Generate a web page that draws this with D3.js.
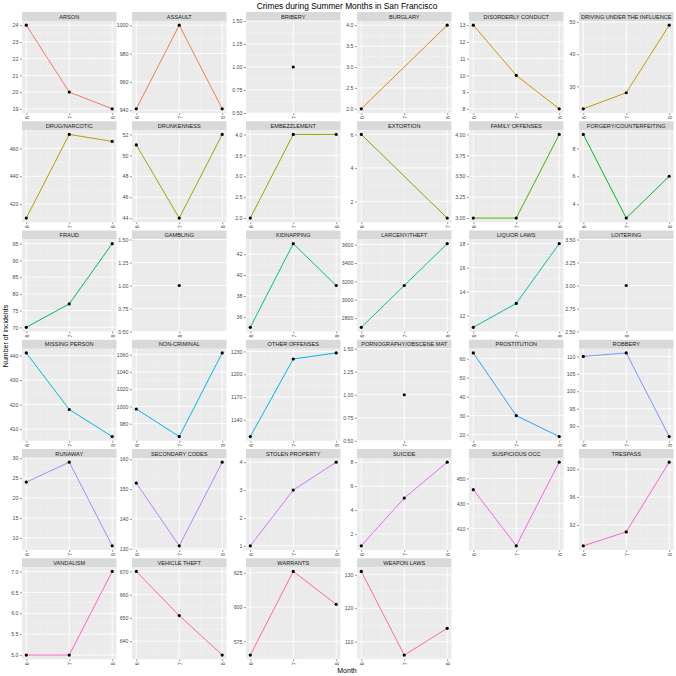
<!DOCTYPE html>
<html><head><meta charset="utf-8">
<script src="https://cdn.jsdelivr.net/npm/d3@7"></script>
<style>body{margin:0;background:#fff} text{font-family:"Liberation Sans",Arial,sans-serif}</style>
</head><body><svg id="c" width="676" height="676"></svg>
<script>
const categories = ["ARSON","ASSAULT","BRIBERY","BURGLARY","DISORDERLY CONDUCT","DRIVING UNDER THE INFLUENCE",
 "DRUG/NARCOTIC","DRUNKENNESS","EMBEZZLEMENT","EXTORTION","FAMILY OFFENSES","FORGERY/COUNTERFEITING",
 "FRAUD","GAMBLING","KIDNAPPING","LARCENY/THEFT","LIQUOR LAWS","LOITERING",
 "MISSING PERSON","NON-CRIMINAL","OTHER OFFENSES","PORNOGRAPHY/OBSCENE MAT","PROSTITUTION","ROBBERY",
 "RUNAWAY","SECONDARY CODES","STOLEN PROPERTY","SUICIDE","SUSPICIOUS OCC","TRESPASS",
 "VANDALISM","VEHICLE THEFT","WARRANTS","WEAPON LAWS"];
const months = [[6,7,8],[6,7,8],[7],[6,8],[6,7,8],[6,7,8],
 [6,7,8],[6,7,8],[6,7,8],[6,7],[6,7,8],[6,7,8],
 [6,7,8],[8],[6,7,8],[6,7,8],[6,7,8],[8],
 [6,7,8],[6,7,8],[6,7,8],[7],[6,7,8],[6,7,8],
 [6,7,8],[6,7,8],[6,7,8],[6,7,8],[6,7,8],[6,7,8],
 [6,7,8],[6,7,8],[6,7,8],[6,7,8]];
const counts = [[24,20,19],[941,1000,941],[1],[2,4],[13,10,8],[23,28,49],
 [410,470,465],[51,44,52],[2,4,4],[6,1],[3,3,4],[9,3,6],
 [70,77,95],[1],[35,43,39],[2700,3155,3610],[11,13,18],[3],
 [441,418,407],[997,965,1062],[1118,1220,1228],[1],[63,30,19],[110,111,87],
 [24,29,8],[152,131,159],[1,3,4],[1,5,8],[441,396,463],[89,91,101],
 [5,5,7],[670,651,634],[565,626,602],[131,106,114]];
const yTickLabels = [
 ["19","20","21","22","23","24"],["940","960","980","1000"],["0.50","0.75","1.00","1.25","1.50"],["2.0","2.5","3.0","3.5","4.0"],["8","9","10","11","12","13"],["30","40","50"],
 ["420","440","460"],["44","46","48","50","52"],["2.0","2.5","3.0","3.5","4.0"],["2","4","6"],["3.00","3.25","3.50","3.75","4.00"],["4","6","8"],
 ["70","75","80","85","90","95"],["0.50","0.75","1.00","1.25","1.50"],["36","38","40","42"],["2800","3000","3200","3400","3600"],["12","14","16","18"],["2.50","2.75","3.00","3.25","3.50"],
 ["410","420","430","440"],["980","1000","1020","1040","1060"],["1140","1170","1200","1230"],["0.50","0.75","1.00","1.25","1.50"],["20","30","40","50","60"],["90","95","100","105","110"],
 ["10","15","20","25","30"],["130","140","150","160"],["1","2","3","4"],["2","4","6","8"],["410","430","450"],["92","96","100"],
 ["5.0","5.5","6.0","6.5","7.0"],["640","650","660","670"],["575","600","625"],["110","120","130"]];
const xTickLabels = ["6","7","8"];
const title = "Crimes during Summer Months in San Francisco";
const xTitle = "Month", yTitle = "Number of incidents";

// ggplot2 hue palette (polar LUV)
function hclLuv(h, c, l){
  const un=0.1978398, vn=0.4683363;
  const Y = l>8 ? Math.pow((l+16)/116,3) : l/903.3;
  const hr = h*Math.PI/180, u=c*Math.cos(hr), v=c*Math.sin(hr);
  const up=u/(13*l)+un, vp=v/(13*l)+vn;
  const X = 9*Y*up/(4*vp), Z = -X/3 - 5*Y + 3*Y/vp;
  const lin=[3.240479*X-1.537150*Y-0.498535*Z, -0.969256*X+1.875992*Y+0.041556*Z, 0.055648*X-0.204043*Y+1.057311*Z];
  const g=lin.map(t=>{t=t>0.00304?1.055*Math.pow(t,1/2.4)-0.055:12.92*t; return Math.round(255*Math.max(0,Math.min(1,t)));});
  return d3.rgb(g[0],g[1],g[2]).formatHex();
}
const n=categories.length;
const colors=d3.range(n).map(i=>hclLuv(15+360*i/n,100,65));
const color=d3.scaleOrdinal(categories,colors);

const svg=d3.select("#c");
svg.append("rect").attr("width",676).attr("height",676).attr("fill","#fff");
const colLeft=[22,132,246,357,469,579], panelW=94.5, stripH=9, panelH=92;
const rowTop=r=>12+r*109.25;
const txtCol="#4D4D4D";

function expandDom(vals){
  const e=d3.extent(vals);
  if(e[0]===e[1]) return [e[0]-0.5,e[1]+0.5];
  const p=(e[1]-e[0])*0.05; return [e[0]-p,e[1]+p];
}
function minorOf(maj,dom){
  const out=[]; if(maj.length<2) return out;
  const st=maj[1]-maj[0];
  const ext=[maj[0]-st].concat(maj);
  ext.forEach(m=>{const v=m+st/2; if(v>dom[0]&&v<dom[1]) out.push(v);});
  return out;
}

categories.forEach((cat,i)=>{
  const r=Math.floor(i/6), c=i%6;
  const x0=colLeft[c], y0=rowTop(r)+stripH;
  const g=svg.append("g");
  const xs=d3.scaleLinear().domain(expandDom(months[i])).range([x0,x0+panelW]);
  const ys=d3.scaleLinear().domain(expandDom(counts[i])).range([y0+panelH,y0]);
  g.append("rect").attr("x",x0).attr("y",rowTop(r)).attr("width",panelW).attr("height",stripH).attr("fill","#D9D9D9");
  g.append("text").attr("x",x0+panelW/2).attr("y",rowTop(r)+stripH/2).attr("dy","0.36em").attr("text-anchor","middle")
    .attr("font-size",5.6).attr("fill","#1A1A1A").text(cat);
  g.append("rect").attr("x",x0).attr("y",y0).attr("width",panelW).attr("height",panelH).attr("fill","#EBEBEB");
  const yMaj=yTickLabels[i].map(Number);
  const xDom=xs.domain(), yDom=ys.domain();
  const xMaj=xTickLabels.map(Number).filter(v=>v>=xDom[0]-1e-9&&v<=xDom[1]+1e-9);
  const grid=g.append("g");
  minorOf(yMaj,yDom).forEach(v=>grid.append("line").attr("x1",x0).attr("x2",x0+panelW).attr("y1",ys(v)).attr("y2",ys(v)).attr("stroke","#F5F5F5").attr("stroke-width",0.45));
  minorOf(xMaj,xDom).forEach(v=>grid.append("line").attr("y1",y0).attr("y2",y0+panelH).attr("x1",xs(v)).attr("x2",xs(v)).attr("stroke","#F5F5F5").attr("stroke-width",0.45));
  yMaj.forEach(v=>grid.append("line").attr("x1",x0).attr("x2",x0+panelW).attr("y1",ys(v)).attr("y2",ys(v)).attr("stroke","#fff").attr("stroke-width",0.9));
  xMaj.forEach(v=>grid.append("line").attr("y1",y0).attr("y2",y0+panelH).attr("x1",xs(v)).attr("x2",xs(v)).attr("stroke","#fff").attr("stroke-width",0.9));
  const yAx=d3.axisLeft(ys).tickValues(yMaj).tickFormat((d,k)=>yTickLabels[i][k]).tickSize(2).tickPadding(1.5);
  const ya=g.append("g").attr("transform",`translate(${x0},0)`).call(yAx);
  ya.select(".domain").remove();
  ya.selectAll("line").attr("stroke","#333").attr("stroke-width",0.5);
  ya.selectAll("text").attr("font-size",5.3).attr("fill",txtCol).attr("font-family","Liberation Sans, Arial, sans-serif");
  const xAx=d3.axisBottom(xs).tickValues(xMaj).tickFormat(d=>xTickLabels[xTickLabels.map(Number).indexOf(d)]).tickSize(2).tickPadding(1);
  const xa=g.append("g").attr("transform",`translate(0,${y0+panelH})`).call(xAx);
  xa.select(".domain").remove();
  xa.selectAll("line").attr("stroke","#333").attr("stroke-width",0.5);
  xa.selectAll("text").attr("font-size",5.3).attr("fill",txtCol).attr("font-family","Liberation Sans, Arial, sans-serif")
    .attr("transform","translate(0,3) rotate(-90)").attr("text-anchor","end").attr("dy","0.35em").attr("y",0).attr("x",0);
  const pts=months[i].map((m,k)=>[m,counts[i][k]]);
  if(pts.length>1){
    g.append("path").attr("d",d3.line().x(d=>xs(d[0])).y(d=>ys(d[1]))(pts)).attr("fill","none")
     .attr("stroke",color(cat)).attr("stroke-width",1);
  }
  g.selectAll("circle").data(pts).join("circle").attr("cx",d=>xs(d[0])).attr("cy",d=>ys(d[1])).attr("r",1.6).attr("fill","#000");
});

svg.append("text").attr("x",347).attr("y",6).attr("dy","0.35em").attr("text-anchor","middle").attr("font-size",8.4).attr("fill","#000").text(title);
svg.append("text").attr("x",347).attr("y",671).attr("dy","0.35em").attr("text-anchor","middle").attr("font-size",7).attr("fill","#000").text(xTitle);
svg.append("text").attr("transform","translate(5.5,336) rotate(-90)").attr("dy","0.35em").attr("text-anchor","middle").attr("font-size",7).attr("fill","#000").text(yTitle);
</script></body></html>
